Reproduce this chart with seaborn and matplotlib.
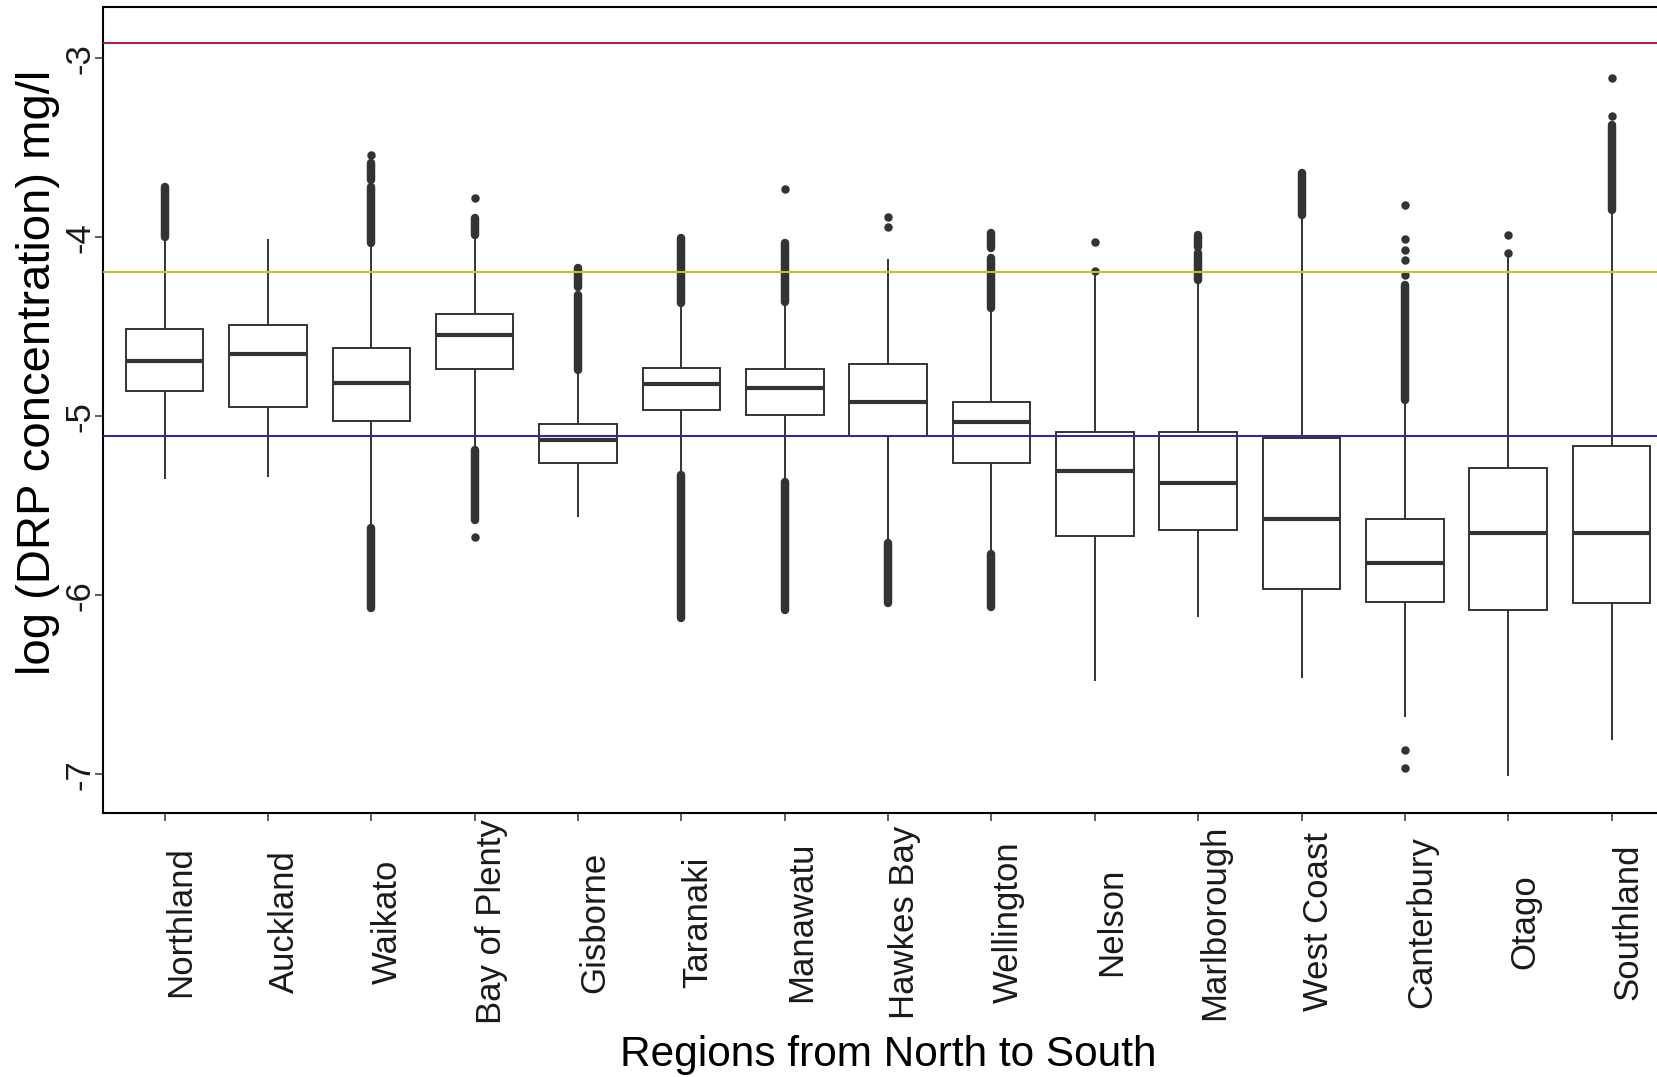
import numpy as np
import pandas as pd
import matplotlib
matplotlib.use("Agg")
import matplotlib.pyplot as plt
import seaborn as sns

# ---------------- data ----------------
regions = ["Northland", "Auckland", "Waikato", "Bay of Plenty", "Gisborne",
           "Taranaki", "Manawatu", "Hawkes Bay", "Wellington", "Nelson",
           "Marlborough", "West Coast", "Canterbury", "Otago", "Southland"]

whisker_low = [-5.35, -5.34, -5.61, -5.17, -5.56, -5.31, -5.35, -5.69,
               -5.75, -6.48, -6.12, -6.46, -6.68, -7.01, -6.81]
q1 = [-4.857, -4.946, -5.026, -4.737, -5.263, -4.965, -4.994, -5.110,
      -5.259, -5.669, -5.635, -5.965, -6.036, -6.082, -6.045]
median = [-4.691, -4.654, -4.812, -4.546, -5.132, -4.821, -4.840, -4.922,
          -5.030, -5.306, -5.374, -5.574, -5.821, -5.654, -5.654]
q3 = [-4.512, -4.490, -4.620, -4.430, -5.045, -4.728, -4.737, -4.709,
      -4.918, -5.086, -5.086, -5.119, -5.576, -5.291, -5.164]
whisker_high = [-4.01, -4.01, -4.05, -4.00, -4.75, -4.38, -4.37, -4.12,
                -4.41, -4.20, -4.26, -3.89, -4.92, -4.10, -3.86]

# isolated outliers: region index and value
single_region = [2, 3, 3, 6, 7, 7, 9, 9, 12, 12, 12, 12, 12, 12, 12, 13, 13, 14, 14]
single_value = [-3.54, -3.779, -5.676, -3.730, -3.885, -3.941, -4.028, -4.186,
                -3.820, -4.009, -4.071, -4.127, -4.211, -6.864, -6.963,
                -3.987, -4.089, -3.108, -3.322]

# dense runs of overlapping outliers: region index, top and bottom value
run_region = [0, 2, 2, 2, 3, 3, 4, 4, 5, 5, 6, 6, 7, 8, 8, 8, 10, 10, 11, 12, 14]
run_top = [-3.72, -3.587, -3.717, -5.626, -3.894, -5.19, -4.173, -4.322,
           -4.006, -5.328, -4.034, -5.37, -5.709, -3.978, -4.117, -5.769,
           -3.987, -4.089, -3.642, -4.267, -3.373]
run_bottom = [-3.997, -3.68, -4.034, -6.073, -3.987, -5.58, -4.276, -4.741,
              -4.369, -6.128, -4.360, -6.082, -6.045, -4.061, -4.397, -6.064,
              -4.052, -4.239, -3.875, -4.909, -3.847]

# reference lines
ref_levels = [-2.917, -4.196, -5.11]
ref_colors = ["#A3284A", "#C9BE3C", "#2E2E8E"]

y_ticks = [-7, -6, -5, -4, -3]
y_tick_labels = ["-7", "-6", "-5", "-4", "-3"]

# ---------------- build table ----------------
rows = []
for i in range(len(regions)):
    for v in (whisker_low[i], q1[i], median[i], q3[i], whisker_high[i]):
        rows.append((i, v))
df = pd.DataFrame(rows, columns=["pos", "value"])

# ---------------- style ----------------
sns.set_theme(style="ticks")
plt.rcParams["font.family"] = ["Liberation Sans", "DejaVu Sans"]
plt.rcParams["axes.unicode_minus"] = False

W, H = 1658, 1077
fig = plt.figure(figsize=(W / 100, H / 100), dpi=100)
fig.patch.set_facecolor("white")
ax = fig.add_axes([102.6 / W, 1 - 813.3 / H, (1673.6 - 102.6) / W, (813.3 - 6.7) / H])

line_col = "#333333"
sns.boxplot(data=df, x="pos", y="value", native_scale=True, orient="x",
            whis=(0, 100), width=0.75, color="white", saturation=1,
            linecolor=line_col, linewidth=1.4, showcaps=False,
            medianprops={"linewidth": 3.0, "color": line_col},
            ax=ax)

# dense outlier runs
ax.vlines(run_region, run_bottom, run_top, colors=line_col, linewidth=6.1,
          capstyle="round", zorder=3)
# isolated outliers
sns.scatterplot(x=single_region, y=single_value, s=37, color=line_col,
                linewidth=0, ax=ax, zorder=3)

for lvl, col in zip(ref_levels, ref_colors):
    ax.axhline(lvl, color=col, linewidth=1.5, zorder=4)

ax.set_xlim(-0.6, 14.6)
ax.set_ylim(-7.218, -2.712)

ax.set_xticks(range(len(regions)))
ax.set_xticklabels(regions, rotation=90, ha="left", va="center")
ax.set_yticks(y_ticks)
ax.set_yticklabels(y_tick_labels, rotation=90, ha="center", va="center")

ax.tick_params(axis="both", length=5.5, width=1.1, color=line_col,
               labelsize=25, labelcolor="#1a1a1a")
ax.tick_params(axis="x", pad=72.7)
ax.tick_params(axis="y", pad=11)

for s in ax.spines.values():
    s.set_visible(True)
    s.set_color("black")
    s.set_linewidth(1.5)

ax.set_xlabel("Regions from North to South", fontsize=30.5, color="black")
ax.xaxis.label.set_va("center")
ax.xaxis.set_label_coords(0.5, -0.2997)
ax.set_ylabel("log (DRP concentration) mg/l", fontsize=34, color="black")
ax.yaxis.label.set_va("center")
ax.yaxis.set_label_coords(-0.0411, 0.547)

fig.savefig("out.png", dpi=100, facecolor="white")
